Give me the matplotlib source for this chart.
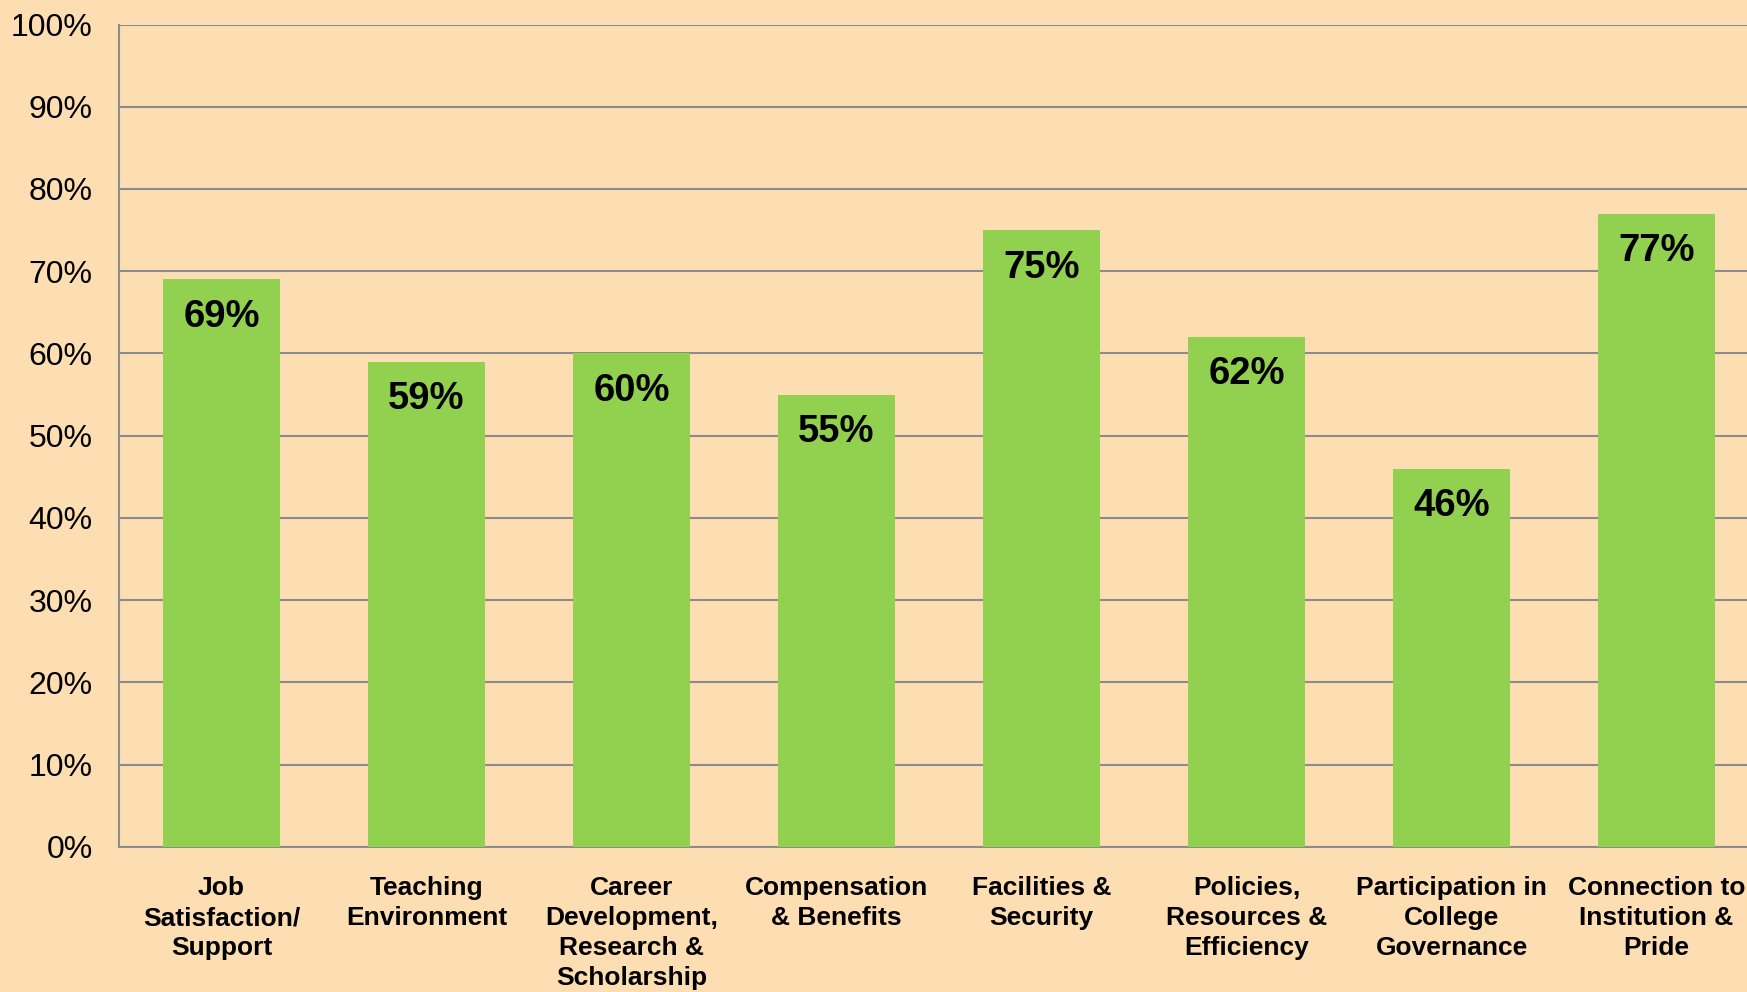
import matplotlib.pyplot as plt
from matplotlib.ticker import PercentFormatter

categories = ['Job\nSatisfaction/\nSupport', 'Teaching\nEnvironment',
              'Career\nDevelopment,\nResearch &\nScholarship', 'Compensation\n& Benefits',
              'Facilities &\nSecurity', 'Policies,\nResources &\nEfficiency',
              'Participation in\nCollege\nGovernance', 'Connection to\nInstitution &\nPride']
values = [69, 59, 60, 55, 75, 62, 46, 77]
yticks = [0, 10, 20, 30, 40, 50, 60, 70, 80, 90, 100]

BG = '#FDDEB3'
GREEN = '#92D050'
GRID = '#8C8C8C'

plt.rcParams['font.family'] = ['Liberation Sans', 'DejaVu Sans']

fig = plt.figure(figsize=(17.47, 9.92), dpi=100, facecolor=BG)
ax = fig.add_axes([0.0681, 0.1462, 0.9388, 0.8291], facecolor=BG)

x = range(len(values))
ax.bar(x, values, width=0.57, color=GREEN, zorder=3)

# value labels just inside the top of each bar
for i, v in enumerate(values):
    ax.annotate(f'{v}%', (i, v), xytext=(0, -14), textcoords='offset points',
                ha='center', va='top', fontsize=27.5, fontweight='bold', zorder=4)

ax.set_xlim(-0.5, 7.5)
ax.set_ylim(0, 100)
ax.set_yticks(yticks)
ax.yaxis.set_major_formatter(PercentFormatter(decimals=0))
ax.set_xticks(list(x))
ax.set_xticklabels(categories, fontsize=19, fontweight='bold', linespacing=1.32)

ax.grid(axis='y', color=GRID, linewidth=1.5, zorder=0)
ax.tick_params(axis='y', length=0, pad=19, labelsize=23)
ax.tick_params(axis='x', length=0, pad=21)

for side in ['top', 'right']:
    ax.spines[side].set_visible(False)
for side in ['left', 'bottom']:
    ax.spines[side].set_color(GRID)
    ax.spines[side].set_linewidth(1.5)

fig.savefig('out.png', dpi=100, facecolor=BG)
